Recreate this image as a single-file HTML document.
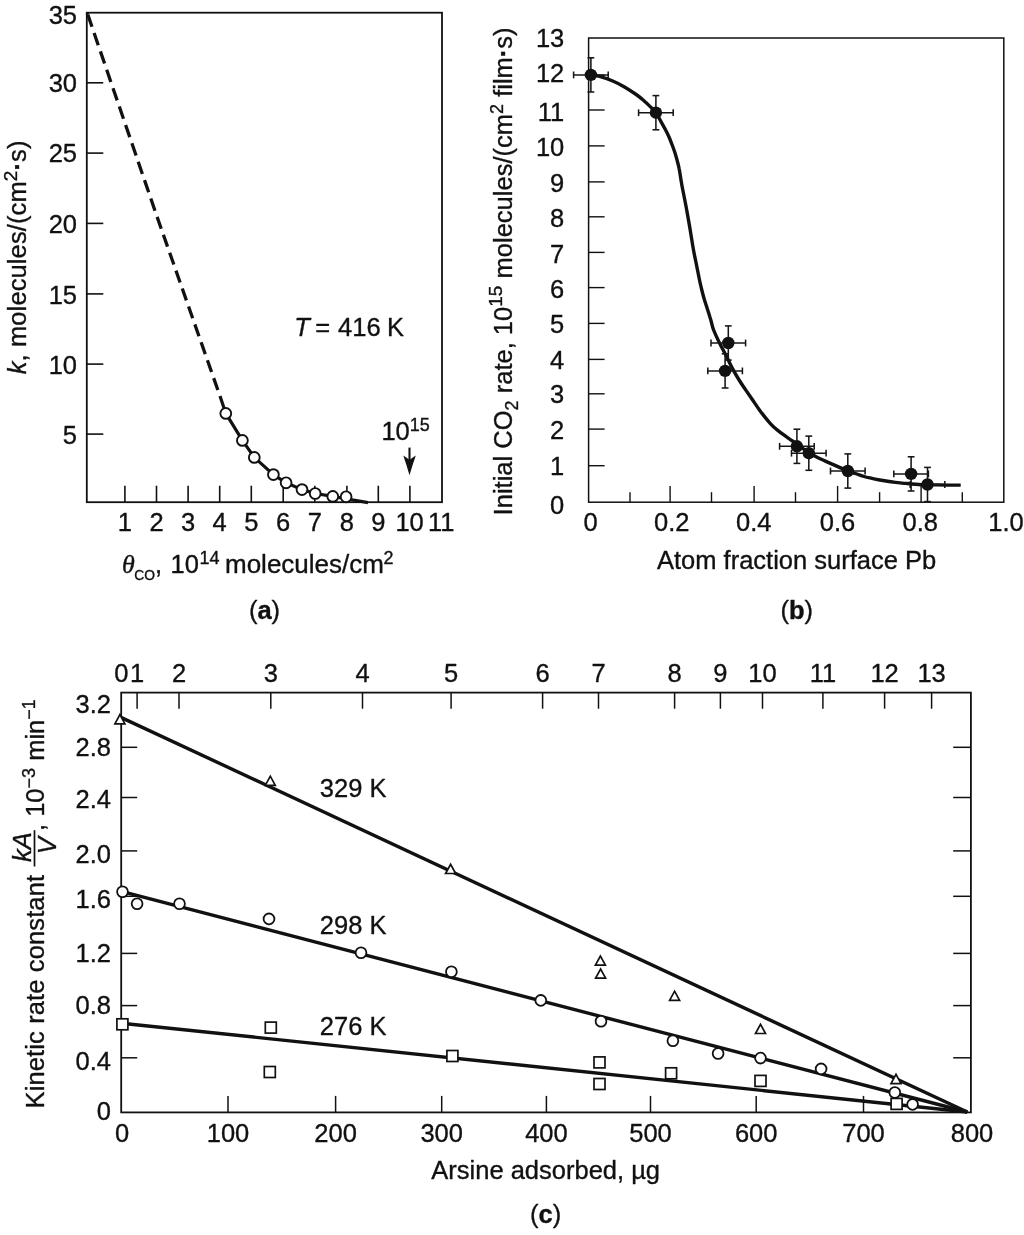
<!DOCTYPE html><html><head><meta charset="utf-8"><title>Figure</title><style>
html,body{margin:0;padding:0;background:#fff}
svg{display:block}
text{font-family:"Liberation Sans",sans-serif;fill:#111;stroke:#111;stroke-width:0.35px;stroke-linejoin:round}
</style></head><body><div id="wrap" style="will-change:transform;width:1024px;height:1235px;background:#fff">
<svg width="1024" height="1235" viewBox="0 0 1024 1235">
<rect width="1024" height="1235" fill="#fff"/>
<rect x="86.8" y="12.7" width="355.2" height="489.5" fill="none" stroke="#111" stroke-width="1.8"/>
<line x1="86.8" y1="82.8" x2="103.3" y2="82.8" stroke="#111" stroke-width="1.6" />
<text x="77.0" y="92.3" font-size="25.5" text-anchor="end" >30</text>
<line x1="86.8" y1="153.1" x2="103.3" y2="153.1" stroke="#111" stroke-width="1.6" />
<text x="77.0" y="162.1" font-size="25.5" text-anchor="end" >25</text>
<line x1="86.8" y1="223.4" x2="103.3" y2="223.4" stroke="#111" stroke-width="1.6" />
<text x="77.0" y="232.8" font-size="25.5" text-anchor="end" >20</text>
<line x1="86.8" y1="293.9" x2="103.3" y2="293.9" stroke="#111" stroke-width="1.6" />
<text x="77.0" y="303.5" font-size="25.5" text-anchor="end" >15</text>
<line x1="86.8" y1="364.1" x2="103.3" y2="364.1" stroke="#111" stroke-width="1.6" />
<text x="77.0" y="373.5" font-size="25.5" text-anchor="end" >10</text>
<line x1="86.8" y1="434.1" x2="103.3" y2="434.1" stroke="#111" stroke-width="1.6" />
<text x="77.0" y="443.5" font-size="25.5" text-anchor="end" >5</text>
<text x="77.0" y="24.4" font-size="25.5" text-anchor="end" >35</text>
<line x1="124.9" y1="502.2" x2="124.9" y2="485.7" stroke="#111" stroke-width="1.6" />
<text x="124.9" y="531.3" font-size="25.5" text-anchor="middle" >1</text>
<line x1="156.5" y1="502.2" x2="156.5" y2="485.7" stroke="#111" stroke-width="1.6" />
<text x="156.5" y="531.3" font-size="25.5" text-anchor="middle" >2</text>
<line x1="188.1" y1="502.2" x2="188.1" y2="485.7" stroke="#111" stroke-width="1.6" />
<text x="188.1" y="531.3" font-size="25.5" text-anchor="middle" >3</text>
<line x1="219.7" y1="502.2" x2="219.7" y2="485.7" stroke="#111" stroke-width="1.6" />
<text x="219.7" y="531.3" font-size="25.5" text-anchor="middle" >4</text>
<line x1="251.3" y1="502.2" x2="251.3" y2="485.7" stroke="#111" stroke-width="1.6" />
<text x="251.3" y="531.3" font-size="25.5" text-anchor="middle" >5</text>
<line x1="283.2" y1="502.2" x2="283.2" y2="485.7" stroke="#111" stroke-width="1.6" />
<text x="283.2" y="531.3" font-size="25.5" text-anchor="middle" >6</text>
<line x1="314.8" y1="502.2" x2="314.8" y2="485.7" stroke="#111" stroke-width="1.6" />
<text x="314.8" y="531.3" font-size="25.5" text-anchor="middle" >7</text>
<line x1="346.9" y1="502.2" x2="346.9" y2="485.7" stroke="#111" stroke-width="1.6" />
<text x="346.9" y="531.3" font-size="25.5" text-anchor="middle" >8</text>
<line x1="378.3" y1="502.2" x2="378.3" y2="485.7" stroke="#111" stroke-width="1.6" />
<text x="378.3" y="531.3" font-size="25.5" text-anchor="middle" >9</text>
<line x1="409.9" y1="502.2" x2="409.9" y2="485.7" stroke="#111" stroke-width="1.6" />
<text x="409.6" y="531.3" font-size="25.5" text-anchor="middle" >10</text>
<text x="441.2" y="531.3" font-size="25.5" text-anchor="middle" >11</text>
<path d="M87.2 13 L87.8 14.6" fill="none" stroke="#111" stroke-width="3.3"/>
<path d="M87.8 14.6 L157.1 216.9" fill="none" stroke="#111" stroke-width="3.3" stroke-dasharray="12.9 6.54"/>
<path d="M157.1 216.9 L220 396.1" fill="none" stroke="#111" stroke-width="3.3" stroke-dasharray="12.5 6.49"/>
<path d="M220 396.1 L225.8 413.4 L242.4 440.4 L254.3 457.4 L273.4 474.6 L286.1 482.8 L302 489.6 L315.2 493.5 L332.8 496.4 L346.1 498.8 L368 502.7" fill="none" stroke="#111" stroke-width="3.2" stroke-linejoin="round"/>
<circle cx="225.8" cy="413.4" r="5.4" fill="#fff" stroke="#111" stroke-width="1.9"/>
<circle cx="242.4" cy="440.4" r="5.4" fill="#fff" stroke="#111" stroke-width="1.9"/>
<circle cx="254.3" cy="457.4" r="5.4" fill="#fff" stroke="#111" stroke-width="1.9"/>
<circle cx="273.4" cy="474.6" r="5.4" fill="#fff" stroke="#111" stroke-width="1.9"/>
<circle cx="286.1" cy="482.8" r="5.4" fill="#fff" stroke="#111" stroke-width="1.9"/>
<circle cx="302.0" cy="489.6" r="5.4" fill="#fff" stroke="#111" stroke-width="1.9"/>
<circle cx="315.2" cy="493.5" r="5.4" fill="#fff" stroke="#111" stroke-width="1.9"/>
<circle cx="332.8" cy="496.4" r="5.4" fill="#fff" stroke="#111" stroke-width="1.9"/>
<circle cx="346.1" cy="496.8" r="5.4" fill="#fff" stroke="#111" stroke-width="1.9"/>
<text y="336.4" font-size="25.5"><tspan x="294.3" font-style="italic">T</tspan><tspan x="315.3">=</tspan><tspan x="338.1">416</tspan><tspan x="387">K</tspan></text>
<text x="381.4" y="440" font-size="25.5">10<tspan font-size="18" dy="-9">15</tspan></text>
<line x1="409.5" y1="447.6" x2="409.5" y2="462.0" stroke="#111" stroke-width="2.1" />
<path d="M403.3 455.4 Q406.8 457.6 409.5 460 Q412.2 457.6 415.8 455.4 Q412.4 465 409.5 475.2 Q406.6 465 403.3 455.4 Z" fill="#111"/>
<text y="573.1" font-size="25.5"><tspan x="122" font-style="italic" font-family="Liberation Serif" font-size="26">θ</tspan><tspan x="134.3" font-size="13.8" dy="7.1">CO</tspan><tspan x="155" dy="-7.1">, </tspan><tspan x="170.6">10</tspan><tspan x="199.4" font-size="18" dy="-9.4">14</tspan><tspan x="225" dy="9.4" font-size="26">molecules/cm</tspan><tspan x="383.5" font-size="18" dy="-9">2</tspan></text>
<text x="264.5" y="619" font-size="25.5" text-anchor="middle">(<tspan font-weight="bold">a</tspan>)</text>
<text transform="translate(25.9,374.3) rotate(-90)" font-size="25.5" letter-spacing="0.11"><tspan font-style="italic">k</tspan>, molecules/(cm<tspan font-size="19" dy="-9.3">2</tspan><tspan dy="9.3" font-weight="bold">·</tspan>s)</text>
<rect x="588.6" y="38.0" width="415.2" height="464.2" fill="none" stroke="#111" stroke-width="1.5"/>
<line x1="588.6" y1="75.2" x2="604.6" y2="75.2" stroke="#111" stroke-width="1.4" />
<text x="564.3" y="81.7" font-size="25.5" text-anchor="end" >12</text>
<line x1="588.6" y1="110.0" x2="604.6" y2="110.0" stroke="#111" stroke-width="1.4" />
<text x="564.3" y="121.0" font-size="25.5" text-anchor="end" >11</text>
<line x1="588.6" y1="145.9" x2="604.6" y2="145.9" stroke="#111" stroke-width="1.4" />
<text x="564.3" y="156.0" font-size="25.5" text-anchor="end" >10</text>
<line x1="588.6" y1="181.9" x2="604.6" y2="181.9" stroke="#111" stroke-width="1.4" />
<text x="564.3" y="192.1" font-size="25.5" text-anchor="end" >9</text>
<line x1="588.6" y1="216.8" x2="604.6" y2="216.8" stroke="#111" stroke-width="1.4" />
<text x="564.3" y="227.0" font-size="25.5" text-anchor="end" >8</text>
<line x1="588.6" y1="252.4" x2="604.6" y2="252.4" stroke="#111" stroke-width="1.4" />
<text x="564.3" y="262.9" font-size="25.5" text-anchor="end" >7</text>
<line x1="588.6" y1="287.6" x2="604.6" y2="287.6" stroke="#111" stroke-width="1.4" />
<text x="564.3" y="297.7" font-size="25.5" text-anchor="end" >6</text>
<line x1="588.6" y1="323.4" x2="604.6" y2="323.4" stroke="#111" stroke-width="1.4" />
<text x="564.3" y="333.1" font-size="25.5" text-anchor="end" >5</text>
<line x1="588.6" y1="359.4" x2="604.6" y2="359.4" stroke="#111" stroke-width="1.4" />
<text x="564.3" y="368.9" font-size="25.5" text-anchor="end" >4</text>
<line x1="588.6" y1="393.8" x2="604.6" y2="393.8" stroke="#111" stroke-width="1.4" />
<text x="564.3" y="403.1" font-size="25.5" text-anchor="end" >3</text>
<line x1="588.6" y1="429.1" x2="604.6" y2="429.1" stroke="#111" stroke-width="1.4" />
<text x="564.3" y="438.9" font-size="25.5" text-anchor="end" >2</text>
<line x1="588.6" y1="465.7" x2="604.6" y2="465.7" stroke="#111" stroke-width="1.4" />
<text x="564.3" y="475.4" font-size="25.5" text-anchor="end" >1</text>
<text x="564.3" y="47.0" font-size="25.5" text-anchor="end" >13</text>
<text x="564.3" y="513.7" font-size="25.5" text-anchor="end" >0</text>
<line x1="630.0" y1="502.2" x2="630.0" y2="492.2" stroke="#111" stroke-width="1.4" />
<line x1="670.1" y1="502.2" x2="670.1" y2="485.9" stroke="#111" stroke-width="1.4" />
<line x1="711.5" y1="502.2" x2="711.5" y2="492.2" stroke="#111" stroke-width="1.4" />
<line x1="754.1" y1="502.2" x2="754.1" y2="485.9" stroke="#111" stroke-width="1.4" />
<line x1="795.5" y1="502.2" x2="795.5" y2="492.2" stroke="#111" stroke-width="1.4" />
<line x1="837.6" y1="502.2" x2="837.6" y2="485.9" stroke="#111" stroke-width="1.4" />
<line x1="879.6" y1="502.2" x2="879.6" y2="492.2" stroke="#111" stroke-width="1.4" />
<line x1="921.1" y1="502.2" x2="921.1" y2="485.9" stroke="#111" stroke-width="1.4" />
<line x1="962.3" y1="502.2" x2="962.3" y2="492.2" stroke="#111" stroke-width="1.4" />
<text x="590.5" y="531.3" font-size="25.5" text-anchor="middle" >0</text>
<text x="671.7" y="531.3" font-size="25.5" text-anchor="middle" >0.2</text>
<text x="753.8" y="531.3" font-size="25.5" text-anchor="middle" >0.4</text>
<text x="837.5" y="531.3" font-size="25.5" text-anchor="middle" >0.6</text>
<text x="920.3" y="531.3" font-size="25.5" text-anchor="middle" >0.8</text>
<text x="1006.0" y="531.3" font-size="25.5" text-anchor="middle" >1.0</text>
<path d="M591.1 74.9 C592.4 75.1 595.1 75.2 598.7 76.2 C602.3 77.2 608.4 79.2 612.7 81 C617.0 82.8 620.6 84.7 624.5 86.9 C628.4 89.2 633.1 92.3 636.2 94.5 C639.3 96.7 640.8 98.0 643.1 100 C645.4 102.0 648.1 104.5 650.2 106.6 C652.3 108.7 654.2 110.2 655.9 112.5 C657.6 114.8 658.8 117.6 660.3 120.3 C661.8 123.0 663.6 126.2 665 128.9 C666.4 131.6 667.7 134.1 668.9 136.7 C670.1 139.3 671.0 141.9 672 144.5 C673.0 147.1 673.9 149.7 674.8 152.3 C675.6 154.9 676.4 157.5 677.1 160.2 C677.8 162.9 678.5 165.2 679.1 168.5 C679.8 171.8 680.4 176.4 681 180 C681.6 183.6 681.8 185.0 682.8 190 C683.8 195.0 685.5 203.3 686.7 210 C687.9 216.7 689.1 223.3 690.2 230 C691.3 236.7 692.6 245.0 693.5 250 C694.4 255.0 694.8 256.7 695.5 260 C696.2 263.3 696.8 266.7 697.5 270 C698.2 273.3 698.8 276.7 699.5 280 C700.2 283.3 701.0 286.7 701.8 290 C702.6 293.3 703.5 296.7 704.5 300 C705.5 303.3 706.7 306.7 707.7 310 C708.8 313.3 709.8 316.7 710.8 320 C711.8 323.3 712.1 326.2 713.6 330 C715.1 333.8 717.3 338.5 719.5 342.9 C721.7 347.3 724.4 352.2 726.6 356.6 C728.8 361.0 730.7 365.2 732.8 369.1 C734.9 373.0 737.0 376.6 739.1 380 C741.2 383.4 743.1 386.1 745.3 389.4 C747.5 392.6 749.9 396.0 752.3 399.5 C754.7 403.0 756.8 406.4 759.8 410.5 C762.8 414.6 767.5 420.4 770.6 423.8 C773.7 427.2 775.8 428.8 778.4 430.9 C781.0 433.0 783.9 435.0 786.25 436.7 C788.6 438.4 790.2 439.4 792.5 441 C794.8 442.6 797.3 444.6 800 446.5 C802.7 448.4 805.8 450.7 808.7 452.5 C811.6 454.3 814.7 456.0 817.5 457.4 C820.3 458.8 822.8 459.9 825.3 461.1 C827.8 462.3 830.2 463.3 832.8 464.4 C835.3 465.5 838.1 466.8 840.6 467.9 C843.1 469.0 845.2 470.0 847.8 471 C850.4 472.0 853.5 472.8 856.25 473.75 C859.0 474.7 861.5 475.7 864.1 476.5 C866.7 477.3 869.3 477.8 871.9 478.4 C874.5 479.0 877.1 479.5 879.7 480 C882.3 480.5 884.9 480.9 887.5 481.3 C890.1 481.7 892.3 482.0 895.3 482.4 C898.3 482.8 901.3 483.0 905.6 483.4 C909.9 483.8 916.0 484.4 921.25 484.7 C926.5 484.9 931.7 484.8 936.9 484.9 C942.1 485.0 948.5 485.1 952.5 485.1 C956.5 485.1 959.3 485.1 960.7 485.1" fill="none" stroke="#111" stroke-width="3.4"/>
<line x1="573.6" y1="74.9" x2="608.2" y2="74.9" stroke="#161616" stroke-width="1.55" />
<line x1="590.9" y1="57.8" x2="590.9" y2="92.0" stroke="#161616" stroke-width="1.55" />
<line x1="573.6" y1="71.5" x2="573.6" y2="78.3" stroke="#161616" stroke-width="1.55" />
<line x1="608.2" y1="71.5" x2="608.2" y2="78.3" stroke="#161616" stroke-width="1.55" />
<line x1="587.5" y1="57.8" x2="594.3" y2="57.8" stroke="#161616" stroke-width="1.55" />
<line x1="587.5" y1="92.0" x2="594.3" y2="92.0" stroke="#161616" stroke-width="1.55" />
<line x1="638.6" y1="112.7" x2="673.2" y2="112.7" stroke="#161616" stroke-width="1.55" />
<line x1="655.9" y1="95.6" x2="655.9" y2="129.8" stroke="#161616" stroke-width="1.55" />
<line x1="638.6" y1="109.3" x2="638.6" y2="116.1" stroke="#161616" stroke-width="1.55" />
<line x1="673.2" y1="109.3" x2="673.2" y2="116.1" stroke="#161616" stroke-width="1.55" />
<line x1="652.5" y1="95.6" x2="659.3" y2="95.6" stroke="#161616" stroke-width="1.55" />
<line x1="652.5" y1="129.8" x2="659.3" y2="129.8" stroke="#161616" stroke-width="1.55" />
<line x1="711.0" y1="343.0" x2="745.6" y2="343.0" stroke="#161616" stroke-width="1.55" />
<line x1="728.3" y1="325.9" x2="728.3" y2="360.1" stroke="#161616" stroke-width="1.55" />
<line x1="711.0" y1="339.6" x2="711.0" y2="346.4" stroke="#161616" stroke-width="1.55" />
<line x1="745.6" y1="339.6" x2="745.6" y2="346.4" stroke="#161616" stroke-width="1.55" />
<line x1="724.9" y1="325.9" x2="731.7" y2="325.9" stroke="#161616" stroke-width="1.55" />
<line x1="724.9" y1="360.1" x2="731.7" y2="360.1" stroke="#161616" stroke-width="1.55" />
<line x1="707.8" y1="370.9" x2="742.4" y2="370.9" stroke="#161616" stroke-width="1.55" />
<line x1="725.1" y1="353.8" x2="725.1" y2="388.0" stroke="#161616" stroke-width="1.55" />
<line x1="707.8" y1="367.5" x2="707.8" y2="374.3" stroke="#161616" stroke-width="1.55" />
<line x1="742.4" y1="367.5" x2="742.4" y2="374.3" stroke="#161616" stroke-width="1.55" />
<line x1="721.7" y1="353.8" x2="728.5" y2="353.8" stroke="#161616" stroke-width="1.55" />
<line x1="721.7" y1="388.0" x2="728.5" y2="388.0" stroke="#161616" stroke-width="1.55" />
<line x1="779.6" y1="446.3" x2="814.2" y2="446.3" stroke="#161616" stroke-width="1.55" />
<line x1="796.9" y1="429.2" x2="796.9" y2="463.4" stroke="#161616" stroke-width="1.55" />
<line x1="779.6" y1="442.9" x2="779.6" y2="449.7" stroke="#161616" stroke-width="1.55" />
<line x1="814.2" y1="442.9" x2="814.2" y2="449.7" stroke="#161616" stroke-width="1.55" />
<line x1="793.5" y1="429.2" x2="800.3" y2="429.2" stroke="#161616" stroke-width="1.55" />
<line x1="793.5" y1="463.4" x2="800.3" y2="463.4" stroke="#161616" stroke-width="1.55" />
<line x1="791.5" y1="453.2" x2="826.1" y2="453.2" stroke="#161616" stroke-width="1.55" />
<line x1="808.8" y1="436.1" x2="808.8" y2="470.3" stroke="#161616" stroke-width="1.55" />
<line x1="791.5" y1="449.8" x2="791.5" y2="456.6" stroke="#161616" stroke-width="1.55" />
<line x1="826.1" y1="449.8" x2="826.1" y2="456.6" stroke="#161616" stroke-width="1.55" />
<line x1="805.4" y1="436.1" x2="812.2" y2="436.1" stroke="#161616" stroke-width="1.55" />
<line x1="805.4" y1="470.3" x2="812.2" y2="470.3" stroke="#161616" stroke-width="1.55" />
<line x1="830.5" y1="471.0" x2="865.1" y2="471.0" stroke="#161616" stroke-width="1.55" />
<line x1="847.8" y1="453.9" x2="847.8" y2="488.1" stroke="#161616" stroke-width="1.55" />
<line x1="830.5" y1="467.6" x2="830.5" y2="474.4" stroke="#161616" stroke-width="1.55" />
<line x1="865.1" y1="467.6" x2="865.1" y2="474.4" stroke="#161616" stroke-width="1.55" />
<line x1="844.4" y1="453.9" x2="851.2" y2="453.9" stroke="#161616" stroke-width="1.55" />
<line x1="844.4" y1="488.1" x2="851.2" y2="488.1" stroke="#161616" stroke-width="1.55" />
<line x1="893.8" y1="473.9" x2="928.4" y2="473.9" stroke="#161616" stroke-width="1.55" />
<line x1="911.1" y1="456.8" x2="911.1" y2="491.0" stroke="#161616" stroke-width="1.55" />
<line x1="893.8" y1="470.5" x2="893.8" y2="477.3" stroke="#161616" stroke-width="1.55" />
<line x1="928.4" y1="470.5" x2="928.4" y2="477.3" stroke="#161616" stroke-width="1.55" />
<line x1="907.7" y1="456.8" x2="914.5" y2="456.8" stroke="#161616" stroke-width="1.55" />
<line x1="907.7" y1="491.0" x2="914.5" y2="491.0" stroke="#161616" stroke-width="1.55" />
<line x1="910.2" y1="484.5" x2="944.8" y2="484.5" stroke="#161616" stroke-width="1.55" />
<line x1="927.5" y1="467.4" x2="927.5" y2="501.6" stroke="#161616" stroke-width="1.55" />
<line x1="910.2" y1="481.1" x2="910.2" y2="487.9" stroke="#161616" stroke-width="1.55" />
<line x1="944.8" y1="481.1" x2="944.8" y2="487.9" stroke="#161616" stroke-width="1.55" />
<line x1="924.1" y1="467.4" x2="930.9" y2="467.4" stroke="#161616" stroke-width="1.55" />
<line x1="924.1" y1="501.6" x2="930.9" y2="501.6" stroke="#161616" stroke-width="1.55" />
<circle cx="590.9" cy="74.9" r="6.2" fill="#111"/>
<circle cx="655.9" cy="112.7" r="6.2" fill="#111"/>
<circle cx="728.3" cy="343" r="6.2" fill="#111"/>
<circle cx="725.1" cy="370.9" r="6.2" fill="#111"/>
<circle cx="796.9" cy="446.3" r="6.2" fill="#111"/>
<circle cx="808.8" cy="453.2" r="6.2" fill="#111"/>
<circle cx="847.8" cy="471" r="6.2" fill="#111"/>
<circle cx="911.1" cy="473.9" r="6.2" fill="#111"/>
<circle cx="927.5" cy="484.5" r="6.2" fill="#111"/>
<text x="657.0" y="569.4" font-size="25.5" text-anchor="start" >Atom fraction surface Pb</text>
<text x="796.8" y="619.4" font-size="25.5" text-anchor="middle">(<tspan font-weight="bold">b</tspan>)</text>
<text transform="translate(512,515.4) rotate(-90)" font-size="25.5" letter-spacing="0.01">Initial CO<tspan font-size="18" dy="6">2</tspan><tspan dy="-6"> rate, 10</tspan><tspan font-size="19" dy="-9.7">15</tspan><tspan dy="9.7"> molecules/(cm</tspan><tspan font-size="18" dy="-9.5">2</tspan><tspan dy="9.5"> film</tspan><tspan font-weight="bold">·</tspan>s)</text>
<rect x="121.2" y="692.6" width="849.7" height="419.8" fill="none" stroke="#111" stroke-width="1.8"/>
<line x1="121.2" y1="747.3" x2="137.2" y2="747.3" stroke="#111" stroke-width="1.5" />
<line x1="970.9" y1="747.3" x2="953.2" y2="747.3" stroke="#111" stroke-width="1.5" />
<line x1="121.2" y1="797.5" x2="137.2" y2="797.5" stroke="#111" stroke-width="1.5" />
<line x1="970.9" y1="797.5" x2="953.2" y2="797.5" stroke="#111" stroke-width="1.5" />
<line x1="121.2" y1="850.9" x2="137.2" y2="850.9" stroke="#111" stroke-width="1.5" />
<line x1="970.9" y1="850.9" x2="953.2" y2="850.9" stroke="#111" stroke-width="1.5" />
<line x1="121.2" y1="896.3" x2="137.2" y2="896.3" stroke="#111" stroke-width="1.5" />
<line x1="970.9" y1="896.3" x2="953.2" y2="896.3" stroke="#111" stroke-width="1.5" />
<line x1="121.2" y1="953.4" x2="137.2" y2="953.4" stroke="#111" stroke-width="1.5" />
<line x1="970.9" y1="953.4" x2="953.2" y2="953.4" stroke="#111" stroke-width="1.5" />
<line x1="121.2" y1="1005.6" x2="137.2" y2="1005.6" stroke="#111" stroke-width="1.5" />
<line x1="970.9" y1="1005.6" x2="953.2" y2="1005.6" stroke="#111" stroke-width="1.5" />
<line x1="121.2" y1="1057.8" x2="137.2" y2="1057.8" stroke="#111" stroke-width="1.5" />
<line x1="970.9" y1="1057.8" x2="953.2" y2="1057.8" stroke="#111" stroke-width="1.5" />
<text x="111.0" y="713.3" font-size="25.5" text-anchor="end" >3.2</text>
<text x="111.0" y="756.0" font-size="25.5" text-anchor="end" >2.8</text>
<text x="111.0" y="807.6" font-size="25.5" text-anchor="end" >2.4</text>
<text x="111.0" y="863.3" font-size="25.5" text-anchor="end" >2.0</text>
<text x="111.0" y="907.8" font-size="25.5" text-anchor="end" >1.6</text>
<text x="111.0" y="962.0" font-size="25.5" text-anchor="end" >1.2</text>
<text x="111.0" y="1013.9" font-size="25.5" text-anchor="end" >0.8</text>
<text x="111.0" y="1069.5" font-size="25.5" text-anchor="end" >0.4</text>
<text x="111.0" y="1119.5" font-size="25.5" text-anchor="end" >0</text>
<line x1="137.1" y1="692.6" x2="137.1" y2="708.7" stroke="#111" stroke-width="1.5" />
<text x="137.1" y="681.7" font-size="25.5" text-anchor="middle" >1</text>
<line x1="179.0" y1="692.6" x2="179.0" y2="708.7" stroke="#111" stroke-width="1.5" />
<text x="179.0" y="681.7" font-size="25.5" text-anchor="middle" >2</text>
<line x1="270.8" y1="692.6" x2="270.8" y2="708.7" stroke="#111" stroke-width="1.5" />
<text x="270.8" y="681.7" font-size="25.5" text-anchor="middle" >3</text>
<line x1="362.5" y1="692.6" x2="362.5" y2="708.7" stroke="#111" stroke-width="1.5" />
<text x="362.5" y="681.7" font-size="25.5" text-anchor="middle" >4</text>
<line x1="451.1" y1="692.6" x2="451.1" y2="708.7" stroke="#111" stroke-width="1.5" />
<text x="451.1" y="681.7" font-size="25.5" text-anchor="middle" >5</text>
<line x1="542.6" y1="692.6" x2="542.6" y2="708.7" stroke="#111" stroke-width="1.5" />
<text x="542.6" y="681.7" font-size="25.5" text-anchor="middle" >6</text>
<line x1="598.5" y1="692.6" x2="598.5" y2="708.7" stroke="#111" stroke-width="1.5" />
<text x="598.5" y="681.7" font-size="25.5" text-anchor="middle" >7</text>
<line x1="674.6" y1="692.6" x2="674.6" y2="708.7" stroke="#111" stroke-width="1.5" />
<text x="674.6" y="681.7" font-size="25.5" text-anchor="middle" >8</text>
<line x1="720.4" y1="692.6" x2="720.4" y2="708.7" stroke="#111" stroke-width="1.5" />
<text x="720.4" y="681.7" font-size="25.5" text-anchor="middle" >9</text>
<line x1="762.5" y1="692.6" x2="762.5" y2="708.7" stroke="#111" stroke-width="1.5" />
<text x="762.5" y="681.7" font-size="25.5" text-anchor="middle" >10</text>
<line x1="822.9" y1="692.6" x2="822.9" y2="708.7" stroke="#111" stroke-width="1.5" />
<text x="822.9" y="681.7" font-size="25.5" text-anchor="middle" >11</text>
<line x1="884.6" y1="692.6" x2="884.6" y2="708.7" stroke="#111" stroke-width="1.5" />
<text x="884.6" y="681.7" font-size="25.5" text-anchor="middle" >12</text>
<line x1="931.6" y1="692.6" x2="931.6" y2="708.7" stroke="#111" stroke-width="1.5" />
<text x="931.6" y="681.7" font-size="25.5" text-anchor="middle" >13</text>
<text x="121.4" y="681.7" font-size="25.5" text-anchor="middle" >0</text>
<line x1="228.0" y1="1112.4" x2="228.0" y2="1095.9" stroke="#111" stroke-width="1.5" />
<text x="228.0" y="1141.5" font-size="25.5" text-anchor="middle" >100</text>
<line x1="335.6" y1="1112.4" x2="335.6" y2="1095.9" stroke="#111" stroke-width="1.5" />
<text x="335.6" y="1141.5" font-size="25.5" text-anchor="middle" >200</text>
<line x1="441.7" y1="1112.4" x2="441.7" y2="1095.9" stroke="#111" stroke-width="1.5" />
<text x="441.7" y="1141.5" font-size="25.5" text-anchor="middle" >300</text>
<line x1="546.4" y1="1112.4" x2="546.4" y2="1095.9" stroke="#111" stroke-width="1.5" />
<text x="546.4" y="1141.5" font-size="25.5" text-anchor="middle" >400</text>
<line x1="650.5" y1="1112.4" x2="650.5" y2="1095.9" stroke="#111" stroke-width="1.5" />
<text x="650.5" y="1141.5" font-size="25.5" text-anchor="middle" >500</text>
<line x1="756.2" y1="1112.4" x2="756.2" y2="1095.9" stroke="#111" stroke-width="1.5" />
<text x="756.2" y="1141.5" font-size="25.5" text-anchor="middle" >600</text>
<line x1="863.5" y1="1112.4" x2="863.5" y2="1095.9" stroke="#111" stroke-width="1.5" />
<text x="863.5" y="1141.5" font-size="25.5" text-anchor="middle" >700</text>
<text x="122.0" y="1141.5" font-size="25.5" text-anchor="middle" >0</text>
<text x="972.0" y="1141.5" font-size="25.5" text-anchor="middle" >800</text>
<line x1="121.4" y1="717.6" x2="967.3" y2="1112.0" stroke="#111" stroke-width="3.4" />
<line x1="121.4" y1="891.4" x2="967.3" y2="1112.0" stroke="#111" stroke-width="3.4" />
<line x1="121.4" y1="1023.2" x2="967.3" y2="1112.0" stroke="#111" stroke-width="3.4" />
<path d="M114.9 723.8 L124.9 723.8 L119.9 714.6 Z" fill="#fff" stroke="#111" stroke-width="1.7" stroke-linejoin="miter"/>
<path d="M265.3 785.4 L275.3 785.4 L270.3 776.2 Z" fill="#fff" stroke="#111" stroke-width="1.7" stroke-linejoin="miter"/>
<path d="M445.6 873.5 L455.6 873.5 L450.6 864.3 Z" fill="#fff" stroke="#111" stroke-width="1.7" stroke-linejoin="miter"/>
<path d="M595.4 965.2 L605.4 965.2 L600.4 956.0 Z" fill="#fff" stroke="#111" stroke-width="1.7" stroke-linejoin="miter"/>
<path d="M595.6 978.2 L605.6 978.2 L600.6 969.0 Z" fill="#fff" stroke="#111" stroke-width="1.7" stroke-linejoin="miter"/>
<path d="M669.6 1000.4 L679.6 1000.4 L674.6 991.2 Z" fill="#fff" stroke="#111" stroke-width="1.7" stroke-linejoin="miter"/>
<path d="M755.5 1033.5 L765.5 1033.5 L760.5 1024.3 Z" fill="#fff" stroke="#111" stroke-width="1.7" stroke-linejoin="miter"/>
<path d="M891.0 1083.6 L901.0 1083.6 L896.0 1074.4 Z" fill="#fff" stroke="#111" stroke-width="1.7" stroke-linejoin="miter"/>
<circle cx="122.5" cy="891.7" r="5.4" fill="#fff" stroke="#111" stroke-width="1.8"/>
<circle cx="137.1" cy="903.7" r="5.4" fill="#fff" stroke="#111" stroke-width="1.8"/>
<circle cx="179.5" cy="903.7" r="5.4" fill="#fff" stroke="#111" stroke-width="1.8"/>
<circle cx="269.0" cy="918.9" r="5.4" fill="#fff" stroke="#111" stroke-width="1.8"/>
<circle cx="361.0" cy="952.7" r="5.4" fill="#fff" stroke="#111" stroke-width="1.8"/>
<circle cx="451.4" cy="971.7" r="5.4" fill="#fff" stroke="#111" stroke-width="1.8"/>
<circle cx="540.8" cy="1000.4" r="5.4" fill="#fff" stroke="#111" stroke-width="1.8"/>
<circle cx="601.0" cy="1021.2" r="5.4" fill="#fff" stroke="#111" stroke-width="1.8"/>
<circle cx="672.9" cy="1040.8" r="5.4" fill="#fff" stroke="#111" stroke-width="1.8"/>
<circle cx="718.1" cy="1053.5" r="5.4" fill="#fff" stroke="#111" stroke-width="1.8"/>
<circle cx="760.5" cy="1058.1" r="5.4" fill="#fff" stroke="#111" stroke-width="1.8"/>
<circle cx="821.1" cy="1068.9" r="5.4" fill="#fff" stroke="#111" stroke-width="1.8"/>
<circle cx="894.8" cy="1092.5" r="5.4" fill="#fff" stroke="#111" stroke-width="1.8"/>
<circle cx="912.6" cy="1104.4" r="5.4" fill="#fff" stroke="#111" stroke-width="1.8"/>
<rect x="116.9" y="1018.8" width="11" height="11" fill="#fff" stroke="#111" stroke-width="1.7"/>
<rect x="265.3" y="1022.1" width="11" height="11" fill="#fff" stroke="#111" stroke-width="1.7"/>
<rect x="264.3" y="1066.5" width="11" height="11" fill="#fff" stroke="#111" stroke-width="1.7"/>
<rect x="446.9" y="1050.5" width="11" height="11" fill="#fff" stroke="#111" stroke-width="1.7"/>
<rect x="594.0" y="1056.9" width="11" height="11" fill="#fff" stroke="#111" stroke-width="1.7"/>
<rect x="594.0" y="1078.5" width="11" height="11" fill="#fff" stroke="#111" stroke-width="1.7"/>
<rect x="665.6" y="1067.8" width="11" height="11" fill="#fff" stroke="#111" stroke-width="1.7"/>
<rect x="755.0" y="1075.4" width="11" height="11" fill="#fff" stroke="#111" stroke-width="1.7"/>
<rect x="891.1" y="1098.4" width="11" height="11" fill="#fff" stroke="#111" stroke-width="1.7"/>
<text x="319.8" y="796.8" font-size="25.5" text-anchor="start" >329 K</text>
<text x="319.8" y="934.1" font-size="25.5" text-anchor="start" >298 K</text>
<text x="319.8" y="1034.7" font-size="25.5" text-anchor="start" >276 K</text>
<text x="431.3" y="1178.8" font-size="25.5" text-anchor="start" >Arsine adsorbed, µg</text>
<text x="545.6" y="1223.1" font-size="25.5" text-anchor="middle">(<tspan font-weight="bold">c</tspan>)</text>
<text transform="translate(44,1108.4) rotate(-90)" font-size="25.5" letter-spacing="0.12">Kinetic rate constant</text>
<line x1="34.5" y1="830.2" x2="34.5" y2="866.5" stroke="#111" stroke-width="1.7" />
<text transform="translate(31.4,862) rotate(-90)" font-size="25.5" font-style="italic">kA</text>
<text transform="translate(56.2,854.3) rotate(-90)" font-size="25.5" font-style="italic">V</text>
<text transform="translate(43.7,831) rotate(-90)" font-size="25.5">, 10<tspan font-size="18" dy="-9">−3</tspan><tspan dy="9"> min</tspan><tspan font-size="18" dy="-9">−1</tspan></text>
</svg></div></body></html>
